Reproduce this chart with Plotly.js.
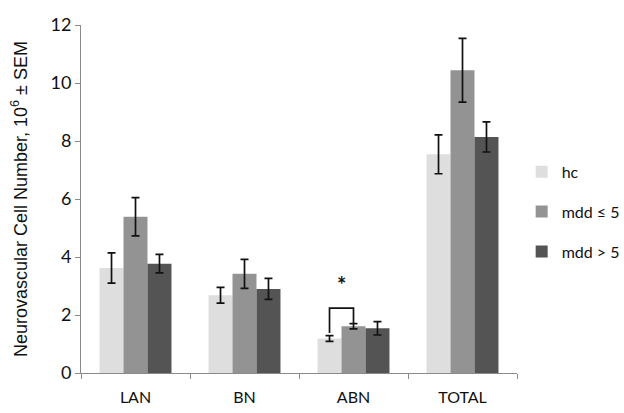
<!DOCTYPE html>
<html>
<head>
<meta charset="utf-8">
<script src="https://cdn.plot.ly/plotly-3.0.1.min.js"></script>
<style>html,body{margin:0;padding:0;background:#fff;}#chart{width:624px;height:413px;}</style>
</head>
<body>
<div id="chart"></div>
<script>
const categories = ["LAN", "BN", "ABN", "TOTAL"];
const seriesNames = ["hc", "mdd ≤ 5", "mdd > 5"];
const hcValues = [3.62, 2.68, 1.19, 7.54];
const hcErrors = [0.52, 0.27, 0.10, 0.67];
const mddLowValues = [5.39, 3.42, 1.61, 10.44];
const mddLowErrors = [0.66, 0.50, 0.09, 1.10];
const mddHighValues = [3.77, 2.90, 1.54, 8.14];
const mddHighErrors = [0.32, 0.36, 0.23, 0.52];
const yTickValues = [0, 2, 4, 6, 8, 10, 12];

const colors = ["#dedede", "#939393", "#545454"];
const vals = [hcValues, mddLowValues, mddHighValues];
const errs = [hcErrors, mddLowErrors, mddHighErrors];

const traces = seriesNames.map((name, i) => ({
  type: "bar",
  name: name,
  x: categories,
  y: vals[i],
  marker: {color: colors[i]},
  legendgroup: "g" + i,
  error_y: {type: "data", array: errs[i], visible: true, color: "#111", thickness: 1.7, width: 4}
}));

const font = "Lato, 'Liberation Sans', Arial, sans-serif";
const layout = {
  width: 624, height: 413,
  margin: {l: 81, r: 107, t: 24.5, b: 39.5, autoexpand: false},
  paper_bgcolor: "#fff", plot_bgcolor: "#fff",
  barmode: "group", bargap: 0.34, bargroupgap: 0,
  showlegend: true,
  legend: {xref: "container", yref: "container", x: 0.836, xanchor: "left", y: 0.625, yanchor: "top",
           font: {family: font, size: 16, color: "#111"},
           tracegroupgap: 16, itemwidth: 30, bgcolor: "rgba(0,0,0,0)"},
  xaxis: {
    type: "category", showline: true, linecolor: "#8a8a8a", linewidth: 1,
    ticks: "outside", tickson: "boundaries", ticklen: 5, tickcolor: "#8a8a8a",
    tickfont: {family: font, size: 16, color: "#111"}, showgrid: false, zeroline: false,
    ticklabelstandoff: 10
  },
  yaxis: {
    range: [0, 12], tickvals: yTickValues, showline: true, linecolor: "#8a8a8a", linewidth: 1,
    ticks: "outside", ticklen: 5, tickcolor: "#8a8a8a", showgrid: false, zeroline: false,
    tickfont: {family: font, size: 18, color: "#111"},
    title: {text: "Neurovascular Cell Number, 10<sup>6</sup> ± SEM", font: {family: "'Liberation Sans', Arial, sans-serif", size: 18, color: "#111"}, standoff: 18}
  },
  shapes: [
    {type: "path", xref: "x", yref: "y", path: "M 1.78 1.38 L 1.78 2.24 L 2.0 2.24 L 2.0 1.72", line: {color: "#111", width: 1.7}}
  ],
  annotations: [
    {x: 1.89, y: 3.05, xref: "x", yref: "y", text: "<b>*</b>", showarrow: false, font: {family: font, size: 22, color: "#111"}}
  ]
};

Plotly.newPlot("chart", traces, layout, {displayModeBar: false, staticPlot: true});
</script>
</body>
</html>
